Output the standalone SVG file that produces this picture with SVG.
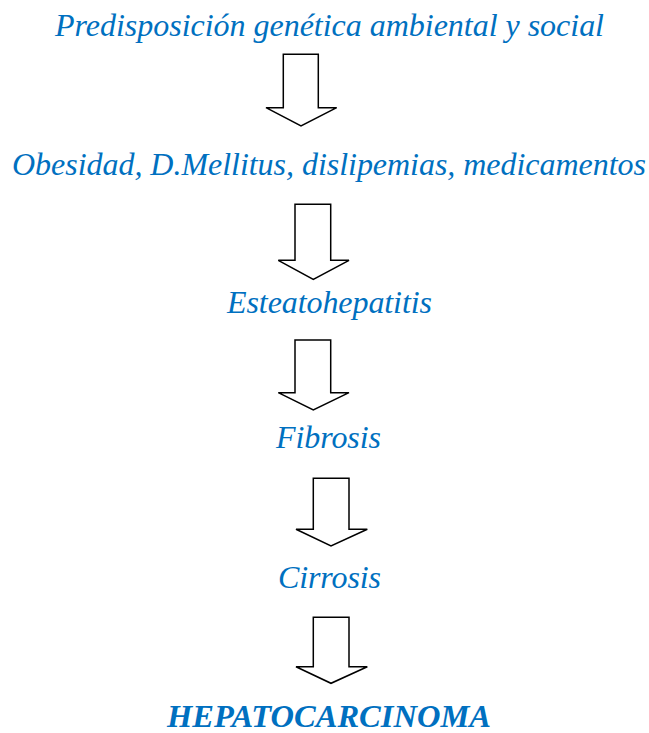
<svg xmlns="http://www.w3.org/2000/svg" width="649" height="733" viewBox="0 0 649 733">
<style>
.t{font-family:'Liberation Serif',serif;font-style:italic;font-size:32px;fill:#0070C0;text-anchor:middle}
.b{font-weight:bold;font-size:32.5px}
.a{fill:#fff;stroke:#000;stroke-width:1.5;stroke-linejoin:miter}
</style>
<rect width="649" height="733" fill="#fff"/>
<g id="n1"><text class="t" x="329.5" y="36" textLength="549" lengthAdjust="spacing">Predisposición genética ambiental y social</text></g>
<g id="n2"><text class="t" x="329" y="175" textLength="634" lengthAdjust="spacing">Obesidad, D.Mellitus, dislipemias, medicamentos</text></g>
<g id="n3"><text class="t" x="329.5" y="313" textLength="205" lengthAdjust="spacing">Esteatohepatitis</text></g>
<g id="n4"><text class="t" x="328.5" y="448" textLength="105" lengthAdjust="spacing">Fibrosis</text></g>
<g id="n5"><text class="t" x="329.5" y="588" textLength="103" lengthAdjust="spacing">Cirrosis</text></g>
<g id="n6"><text class="t b" x="329" y="727" textLength="324" lengthAdjust="spacing">HEPATOCARCINOMA</text></g>
<g id="connectors">
<path class="a" d="M283.3,54.3H318.3V107.7H336.7L301,126L266,107.7H283.3Z"/>
<path class="a" d="M295,204.3H330.7V260.3H349L313.3,279.3L278.3,260.3H295Z"/>
<path class="a" d="M295,340H330.7V392.7H349L313.3,410L278.3,392.7H295Z"/>
<path class="a" d="M313.3,478.3H349V529.3H367.3L331,546L296,529.3H313.3Z"/>
<path class="a" d="M313.3,617.3H349V666.7H367.3L331,683.3L296,666.7H313.3Z"/>
</g>
</svg>
